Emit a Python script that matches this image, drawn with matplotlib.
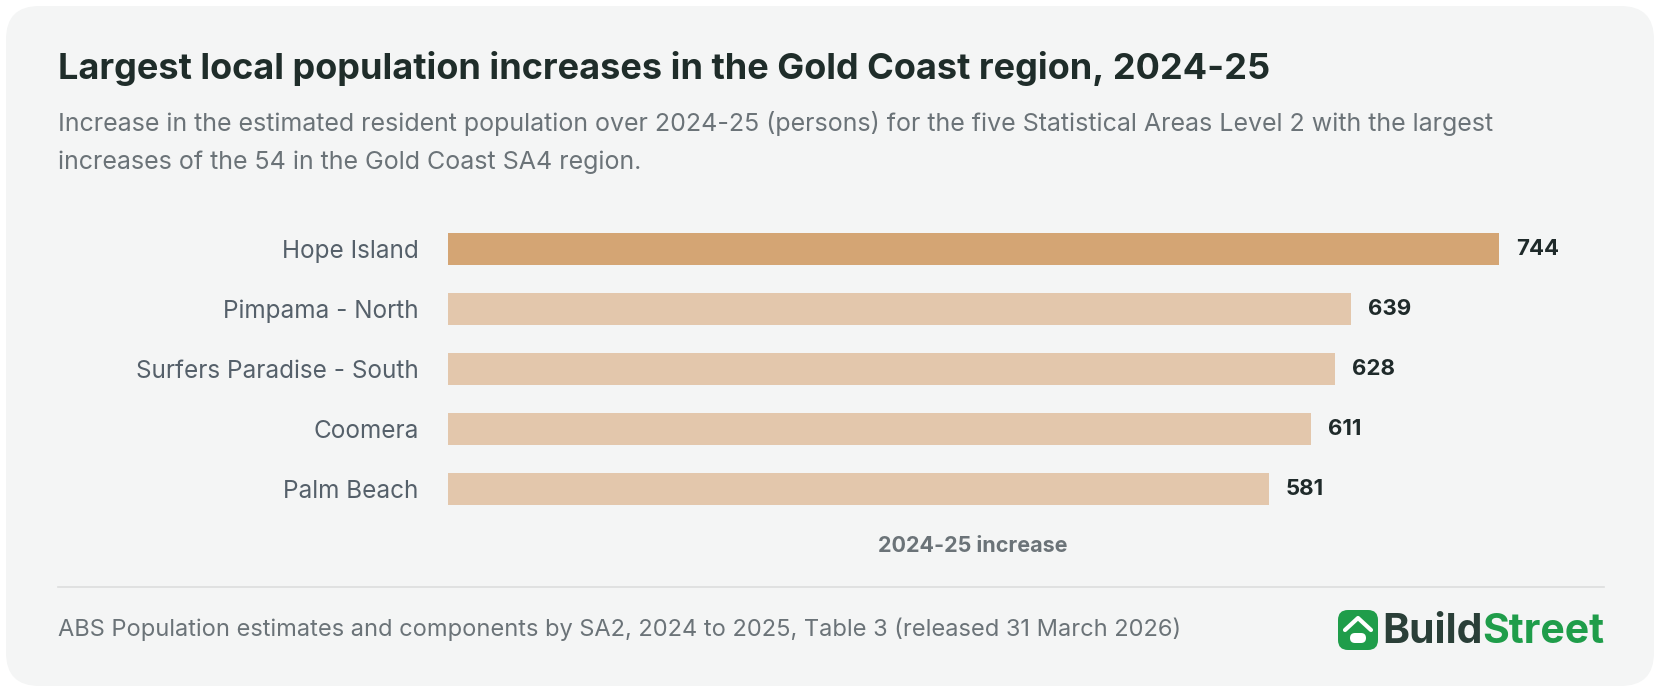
import matplotlib
matplotlib.use("Agg")
import matplotlib.pyplot as plt
from matplotlib.patches import FancyBboxPatch

categories = ["Hope Island", "Pimpama - North", "Surfers Paradise - South", "Coomera", "Palm Beach"]
values = [744, 639, 628, 611, 581]

W, H = 1660, 691
fig = plt.figure(figsize=(W/100, H/100), dpi=100)
fig.patch.set_facecolor("white")
plt.rcParams['font.family'] = ['Inter', 'DejaVu Sans']

def fx(x): return x / W
def fy(y): return 1 - y / H

card = FancyBboxPatch((fx(6), fy(686)), fx(1648), 680/H, boxstyle="round,pad=0,rounding_size=0.02",
                      transform=fig.transFigure, facecolor="#f4f5f5", edgecolor="none", mutation_aspect=W/H, zorder=-10)
fig.patches.append(card)

fig.text(fx(58), fy(69), "Largest local population increases in the Gold Coast region, 2024-25",
         fontsize=26, fontweight="bold", color="#1f2d2a", va="center")
fig.text(fx(58), fy(124), "Increase in the estimated resident population over 2024-25 (persons) for the five Statistical Areas Level 2 with the largest",
         fontsize=18, color="#6b7378", va="center")
fig.text(fx(58), fy(162), "increases of the 54 in the Gold Coast SA4 region.",
         fontsize=18, color="#6b7378", va="center")

left, right = 448, 1578
top, bottom = 219, 519
ax = fig.add_axes([fx(left), fy(bottom), (right-left)/W, (bottom-top)/H], zorder=5)
ax.set_facecolor("none")
ys = list(range(len(categories)))
colors = ["#d4a574"] + ["#e3c7ac"] * (len(categories) - 1)
ax.barh(ys, values, height=0.54, color=colors)
ax.set_xlim(0, 800)
ax.set_ylim(len(categories) - 0.5, -0.5)
ax.set_yticks(ys)
ax.set_yticklabels(categories, fontsize=17.5, color="#55606a")
ax.tick_params(axis="y", length=0, pad=21)
ax.set_xticks([])
for s in ax.spines.values():
    s.set_visible(False)
for y, v in zip(ys, values):
    ax.text(v + 12, y, str(v), va="center", ha="left", fontsize=16, fontweight="bold", color="#1f2a2a")

fig.text(fx(973), fy(546), "2024-25 increase", fontsize=15.5, fontweight="bold", color="#6b7378", ha="center", va="center")

fig.add_artist(plt.Line2D([fx(58), fx(1604)], [fy(587), fy(587)], transform=fig.transFigure, color="#dddddd", lw=1.2))
fig.text(fx(58), fy(629), "ABS Population estimates and components by SA2, 2024 to 2025, Table 3 (released 31 March 2026)",
         fontsize=17, color="#6b7378", va="center")

# logo
icon = FancyBboxPatch((fx(1338), fy(650)), fx(40), 40/H, boxstyle="round,pad=0,rounding_size=0.006",
                      transform=fig.transFigure, facecolor="#1f9d4a", edgecolor="none", mutation_aspect=W/H)
fig.patches.append(icon)
fig.add_artist(plt.Line2D([fx(1345), fx(1358), fx(1371)], [fy(630), fy(618), fy(630)], transform=fig.transFigure,
                          color="white", lw=3, solid_capstyle="round"))
fig.patches.append(FancyBboxPatch((fx(1350), fy(643)), fx(16), 10/H, boxstyle="round,pad=0,rounding_size=0.003",
                                  transform=fig.transFigure, facecolor="white", edgecolor="none", mutation_aspect=W/H))
t = fig.text(fx(1382), fy(632), "Build", fontsize=29.5, fontweight="bold", color="#2a3f38", va="center")
fig.canvas.draw()
bb = t.get_window_extent()
fig.text(bb.x1 / W, fy(632), "Street", fontsize=29.5, fontweight="bold", color="#1f9d4a", va="center")

fig.savefig("out.png", dpi=100, facecolor="white")
